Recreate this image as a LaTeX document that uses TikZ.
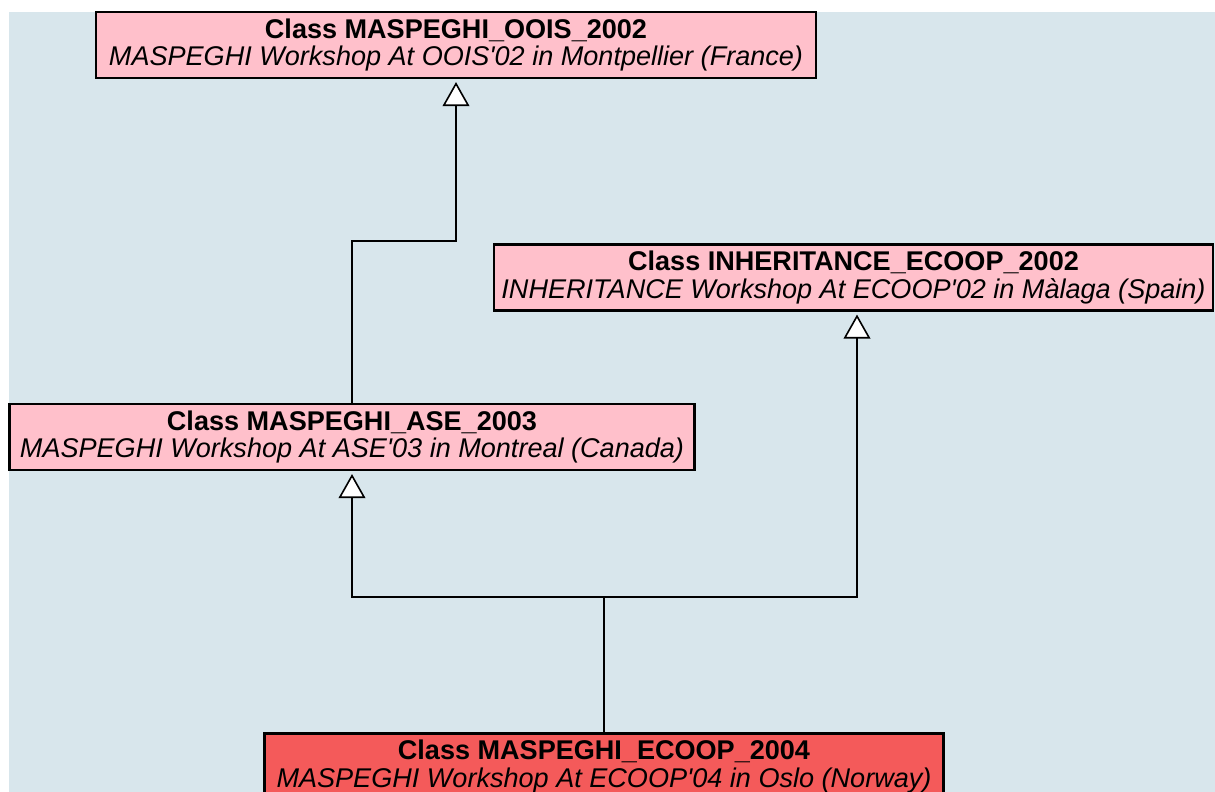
\documentclass[tikz,border=0pt]{standalone}
\usepackage{fontspec}
\setmainfont{Liberation Sans}
\usetikzlibrary{arrows.meta}
\definecolor{bgblue}{RGB}{216,230,236}
\definecolor{classpink}{RGB}{255,192,203}
\definecolor{classred}{RGB}{244,90,90}
\begin{document}
\begin{tikzpicture}[x=0.75pt,y=-0.75pt]

	\tikzstyle{box} = [draw, line width=1.6pt, fill=classpink, align=center, inner sep=0pt, minimum height=49.5pt, font=\fontsize{20.3}{20.5}\selectfont];
	\tikzstyle{isa} = [line width=1.6pt, -{Triangle[length=18pt, width=20pt, fill=white, line width=1.2pt]}, shorten >=2.25pt];

	\useasboundingbox (0,0) rectangle (1215,792);
	\fill[bgblue] (9,12) rectangle (1215,792);

	\node[box, minimum width=540pt] (oois) at (456,45) {\textbf{Class MASPEGHI\_OOIS\_2002}\\\textit{MASPEGHI Workshop At OOIS\textquotesingle 02 in Montpellier (France)}};
	\node[box, minimum width=539pt] (inherit) at (853.5,277.5) {\textbf{Class INHERITANCE\_ECOOP\_2002}\\\textit{INHERITANCE Workshop At ECOOP\textquotesingle 02 in Màlaga (Spain)}};
	\node[box, minimum width=513.75pt] (ase) at (352,437) {\textbf{Class MASPEGHI\_ASE\_2003}\\\textit{MASPEGHI Workshop At ASE\textquotesingle 03 in Montreal (Canada)}};
	\node[box, fill=classred, minimum width=509.25pt] (ecoop) at (604,766.5) {\textbf{Class MASPEGHI\_ECOOP\_2004}\\\textit{MASPEGHI Workshop At ECOOP\textquotesingle 04 in Oslo (Norway)}};

	\coordinate (bendA) at (456,241);
	\coordinate (split) at (604,597);
	\coordinate (bendB) at (857,597);

	\draw[isa] (ase.north) |- (bendA) -- (oois.south);
	\draw[line width=1.6pt] (ecoop.north) -- (split);
	\draw[isa] (split) -| (ase.south);
	\draw[isa] (split) -- (bendB) -- (bendB |- inherit.south);

\end{tikzpicture}
\end{document}
